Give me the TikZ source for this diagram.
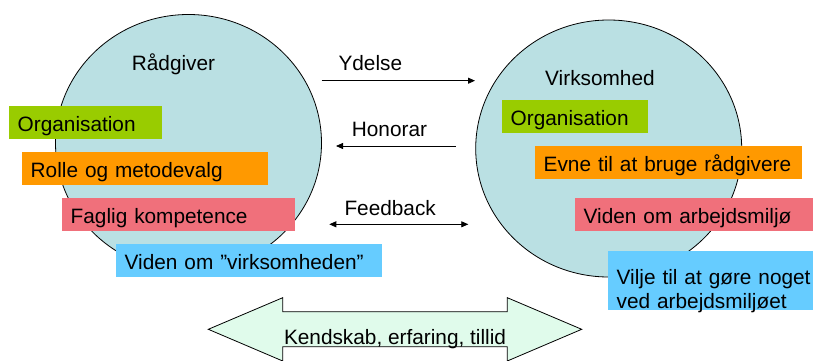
\documentclass[tikz,border=0pt]{standalone}
\usepackage{fontspec}
\setmainfont{Liberation Sans}
\usetikzlibrary{shapes.geometric,arrows.meta}

\definecolor{partyfill}{HTML}{BAE0E3}
\definecolor{taggreen}{HTML}{99CC00}
\definecolor{tagorange}{HTML}{FF9900}
\definecolor{tagpink}{HTML}{F0707B}
\definecolor{tagblue}{HTML}{66CCFF}
\definecolor{bandfill}{HTML}{E0FBEB}

\tikzstyle{party}=[ellipse,draw,fill=partyfill,line width=0.8pt,minimum width=266pt,minimum height=257pt,inner sep=0pt]
\tikzstyle{tag}=[rectangle,anchor=north west,inner xsep=8.5pt,inner ysep=0pt,minimum height=32.7pt,text height=17pt,text depth=0pt,align=left]
\tikzstyle{flow}=[draw,line width=0.8pt]
\tikzstyle{band}=[draw,fill=bandfill,line width=0.8pt]
\tikzstyle{caption}=[anchor=base west,inner sep=0pt]

\begin{document}
\begin{tikzpicture}[x=1pt,y=-1pt,>={Triangle[length=7pt,width=6pt]},font=\fontsize{20.8}{24}\selectfont]
			\useasboundingbox (0,0) rectangle (813,361);

			% the two parties
			\node [party] (raadgiver) at (188.5,143) {};
			\node [party] (virksomhed) at (608.7,148.5) {};
			\node [caption] (raadgiver-name) at (131.7,70.7) {Rådgiver};
			\node [caption] (virksomhed-name) at (545,85) {Virksomhed};

			% left tags
			\node [tag,fill=taggreen,text width=136pt]  (r-org)    at (9,106)   {Organisation};
			\node [tag,fill=tagorange,text width=229pt] (r-rolle)  at (22,152)  {Rolle og metodevalg};
			\node [tag,fill=tagpink,text width=216pt]   (r-faglig) at (62,198)  {Faglig kompetence};
			\node [tag,fill=tagblue,text width=249pt]   (r-viden)  at (116,244) {Viden om ”virksomheden”};

			% right tags
			\node [tag,fill=taggreen,text width=128.7pt]  (v-org)   at (502,100) {Organisation};
			\node [tag,fill=tagorange,text width=249.7pt] (v-evne)  at (535,146) {Evne til at bruge rådgivere};
			\node [tag,fill=tagpink,text width=230pt]     (v-viden) at (575,198) {Viden om arbejdsmiljø};
			\node [tag,fill=tagblue,text width=205pt,minimum height=58.7pt,text height=,text depth=8pt] (v-vilje) at (608,251) {Vilje til at gøre noget\\ved arbejdsmiljøet};

			% exchanges
			\coordinate (ydelse-a)   at (321.7,80.7);
			\coordinate (ydelse-b)   at (475,80.7);
			\coordinate (honorar-a)  at (455.7,146);
			\coordinate (honorar-b)  at (336,146);
			\coordinate (feedback-a) at (329.3,224.3);
			\coordinate (feedback-b) at (468.3,224.3);
			\node [caption] (ydelse)   at (338.3,70.7)  {Ydelse};
			\node [caption] (honorar)  at (351.7,136.7) {Honorar};
			\node [caption] (feedback) at (344.3,215.7) {Feedback};

			\draw [flow,->]  (ydelse-a) -- (ydelse-b);
			\draw [flow,->]  (honorar-a) -- (honorar-b);
			\draw [flow,<->] (feedback-a) -- (feedback-b);

			% shared ground
			\draw [band] (208.3,329.3) -- (282.7,297.7) -- (282.7,311.7) -- (507.3,311.7) -- (507.3,297.7) -- (581.7,329.3)
				-- (507.3,361) -- (507.3,346.7) -- (282.7,346.7) -- (282.7,361) -- cycle;
			\node [caption,anchor=base] (kendskab) at (395,344) {Kendskab, erfaring, tillid};
\end{tikzpicture}
\end{document}
